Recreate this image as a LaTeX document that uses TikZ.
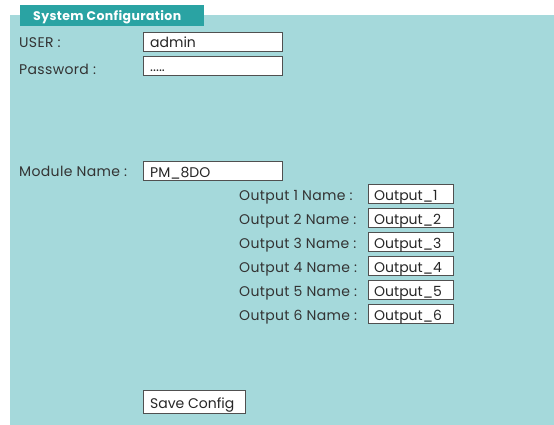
\documentclass[tikz,border=0pt]{standalone}
\usepackage{fontspec}
\setmainfont{Poppins}
\newfontfamily\lblfont[LetterSpace=2.5]{Poppins}
\newfontfamily\ttlfont[LetterSpace=3]{Poppins}
\begin{document}
\begin{tikzpicture}[x=1pt,y=-1pt,
  lbl/.style={anchor=base west,inner sep=0pt,font=\lblfont\fontsize{14}{16}\selectfont,text=labeltxt},
  field/.style={draw=fieldframe,line width=0.9pt,fill=white,rectangle,anchor=north west,inner sep=0pt},
  ftxt/.style={anchor=base west,inner sep=0pt,font=\fontsize{14}{16}\selectfont,text=black!85}
]
\definecolor{panelbg}{HTML}{A5D9DB}
\definecolor{tabbg}{HTML}{2AA3A3}
\definecolor{fieldframe}{HTML}{505050}
\definecolor{labeltxt}{HTML}{333333}
\useasboundingbox (0,0) rectangle (554,425);
% background panel and title tab
\fill[panelbg] (10,15) rectangle (554,425);
\fill[tabbg] (20,5) rectangle (204,26);
\node[anchor=base west,inner sep=0pt,text=white,font=\ttlfont\bfseries\fontsize{12.5}{14}\selectfont] (title) at (33,21) {System Configuration};
% login fields
\node[lbl] (userl) at (19,48) {USER :};
\node[field,minimum width=139pt,minimum height=19pt] (userf) at (143,32) {};
\node[ftxt] (usert) at (150,48) {admin};
\node[lbl] (passl) at (19,75) {Password :};
\node[field,minimum width=139pt,minimum height=19pt] (passf) at (143,56) {};
\node[ftxt] (passt) at (150,72) {.....};
% module name
\node[lbl] (modl) at (19,176) {Module Name :};
\node[field,minimum width=139pt,minimum height=19pt] (modf) at (143,161) {};
\node[ftxt] (modt) at (150,177) {PM\_8DO};
% output names
\foreach \i in {1,...,6}{
  \pgfmathsetmacro{\yy}{184+24*(\i-1)}
  \node[lbl] (out\i l) at (239,\yy+16) {Output \i\ Name :};
  \node[field,minimum width=85pt,minimum height=19pt] (out\i f) at (368,\yy) {};
  \node[ftxt] (out\i t) at (374,\yy+16) {Output\_\i};
}
% save button
\node[field,minimum width=102pt,minimum height=23pt] (save) at (143,390) {};
\node[ftxt] (savet) at (150,408) {Save Config};
\end{tikzpicture}
\end{document}
